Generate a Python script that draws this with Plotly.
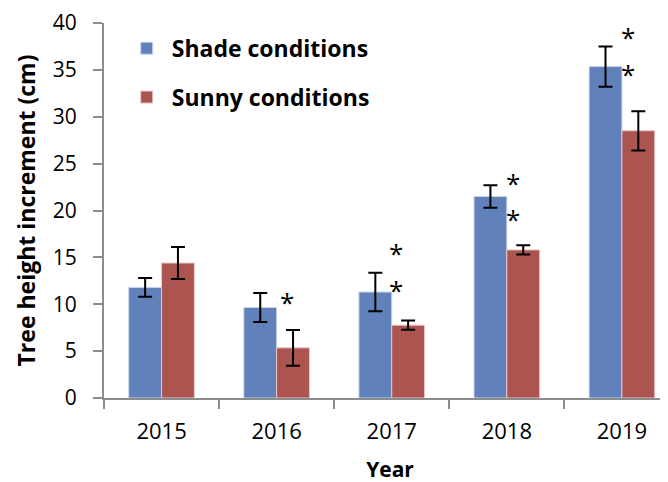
import plotly.graph_objects as go

years = ['2015', '2016', '2017', '2018', '2019']
shade = [11.8, 9.65, 11.3, 21.5, 35.35]
shade_err = [1.0, 1.55, 2.05, 1.2, 2.15]
sunny = [14.4, 5.35, 7.77, 15.8, 28.5]
sunny_err = [1.7, 1.9, 0.5, 0.5, 2.1]

# significance marks: (year, y value)
star_years = ['2016', '2017', '2017', '2018', '2018', '2019', '2019']
star_y = [10.67, 15.85, 11.9, 23.4, 19.5, 38.9, 35.0]
star_shift = [10, 4, 4, 6, 6, 6, 6]

blue = '#6181BA'
red = '#AB5450'
font = 'Open Sans'

fig = go.Figure()
fig.add_trace(go.Bar(x=years, y=shade, name='Shade conditions', marker=dict(color=blue, line=dict(color='#C9D4EA', width=1)),
                     error_y=dict(type='data', array=shade_err, color='black', thickness=2, width=7),
                     legendgroup='a'))
fig.add_trace(go.Bar(x=years, y=sunny, name='Sunny conditions', marker=dict(color=red, line=dict(color='#E6C7C6', width=1)),
                     error_y=dict(type='data', array=sunny_err, color='black', thickness=2, width=7),
                     legendgroup='b'))

for yr, yv, sh in zip(star_years, star_y, star_shift):
    fig.add_annotation(x=years.index(yr), y=yv, text='*', showarrow=False, xshift=sh, yshift=-4,
                       font=dict(family=font, size=26, color='black'))

# page body adds an 8px offset, margins compensate for it
fig.update_layout(
    width=668, height=482,
    margin=dict(l=96, r=0, t=15, b=92, autoexpand=False),
    paper_bgcolor='white', plot_bgcolor='white',
    font=dict(family=font, color='black'),
    barmode='group', bargap=0.43, bargroupgap=0,
    legend=dict(x=0.031, y=0.99, xanchor='left', yanchor='top', bgcolor='rgba(0,0,0,0)',
                font=dict(family=font, size=23, weight='bold'), traceorder='grouped', tracegroupgap=16,
                itemwidth=40),
)
fig.update_xaxes(type='category', range=[-0.5, 4.47], showline=True, linecolor='#8C8C8C', linewidth=2,
                 ticks='outside', tickson='boundaries', ticklen=9, tickcolor='#8C8C8C', tickwidth=2,
                 tickfont=dict(size=22), ticklabelstandoff=13, automargin=False,
                 title=dict(text='<b>Year</b>', font=dict(size=21), standoff=18))
fig.update_yaxes(range=[0, 40], dtick=5, showline=True, linecolor='#8C8C8C', linewidth=2,
                 ticks='outside', ticklen=9, tickcolor='#8C8C8C', tickwidth=2, showgrid=False,
                 zeroline=False, tickfont=dict(size=21), ticklabelstandoff=12, automargin=False,
                 ticklabeloverflow='allow',
                 title=dict(text='<b>Tree height increment (cm)</b>', font=dict(size=23), standoff=11))

fig.write_html('out.html')
